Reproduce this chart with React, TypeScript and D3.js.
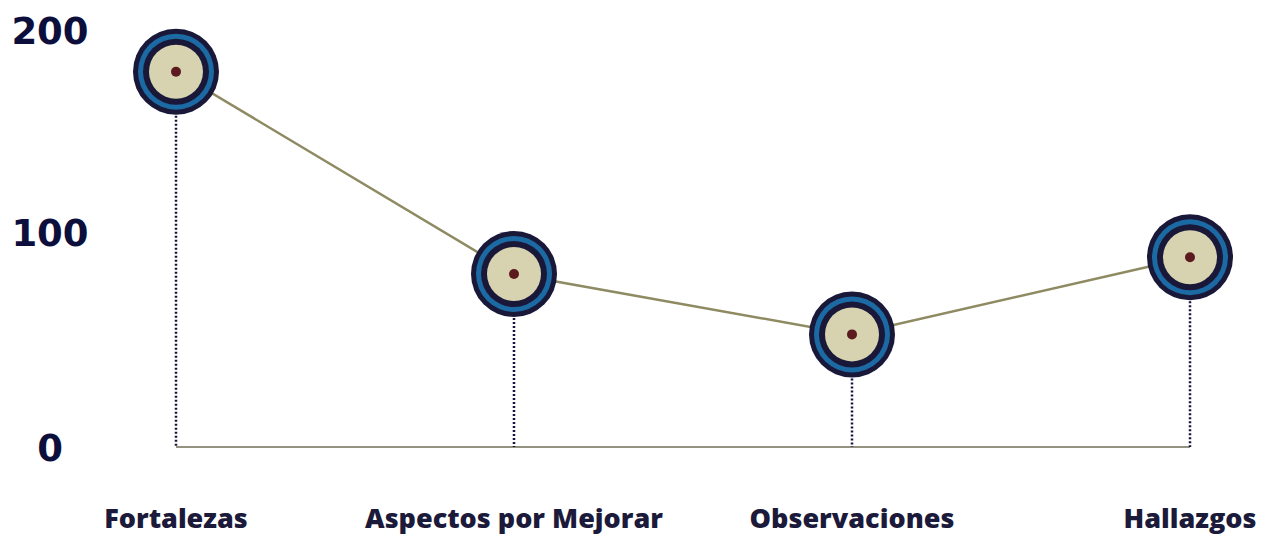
import * as d3 from "d3";
import { useEffect, useRef } from "react";

const categories = ["Fortalezas", "Aspectos por Mejorar", "Observaciones", "Hallazgos"];
const values = [180, 83, 54, 91];
const yTicks = [0, 100, 200];

export default function App() {
  const svgRef = useRef<SVGSVGElement | null>(null);

  useEffect(() => {
    const svg = d3.select(svgRef.current);
    const width = 1271;
    const height = 536;

    svg.selectAll("*").remove();
    svg.attr("width", width).attr("height", height);

    const x = d3
      .scalePoint<string>()
      .domain(categories)
      .range([176, 1190]);

    const y = d3.scaleLinear().domain([0, 200]).range([447, 30]);

    // baseline
    svg
      .append("line")
      .attr("x1", x(categories[0])!)
      .attr("x2", x(categories[categories.length - 1])!)
      .attr("y1", y(0))
      .attr("y2", y(0))
      .attr("stroke", "#6f6c55")
      .attr("stroke-width", 1.5);

    const pts = categories.map((c, i) => ({ c, v: values[i] }));

    // dotted drop lines
    svg
      .selectAll(".drop")
      .data(pts)
      .enter()
      .append("line")
      .attr("x1", (d) => x(d.c)!)
      .attr("x2", (d) => x(d.c)!)
      .attr("y1", (d) => y(d.v))
      .attr("y2", y(0))
      .attr("stroke", "#14133f")
      .attr("stroke-width", 2.5)
      .attr("stroke-dasharray", "2,2");

    const line = d3
      .line<{ c: string; v: number }>()
      .x((d) => x(d.c)!)
      .y((d) => y(d.v));

    svg
      .append("path")
      .datum(pts)
      .attr("fill", "none")
      .attr("stroke", "#8e8a62")
      .attr("stroke-width", 2.5)
      .attr("d", line);

    const rings = [
      { r: 43, fill: "#191839" },
      { r: 38, fill: "#1c6aa3" },
      { r: 33, fill: "#191839" },
      { r: 27, fill: "#d7d2b0" },
      { r: 5, fill: "#5b1a1e" },
    ];

    const g = svg
      .selectAll(".marker")
      .data(pts)
      .enter()
      .append("g")
      .attr("transform", (d) => `translate(${x(d.c)},${y(d.v)})`);

    rings.forEach((r) => {
      g.append("circle").attr("r", r.r).attr("fill", r.fill);
    });

    svg
      .selectAll(".ytick")
      .data(yTicks)
      .enter()
      .append("text")
      .attr("x", 50)
      .attr("y", (d) => y(d) + (d === 100 ? -6 : 1))
      .attr("dy", "0.36em")
      .attr("text-anchor", "middle")
      .attr("font-family", "DejaVu Sans")
      .attr("font-weight", 700)
      .attr("font-size", "37px")
      .attr("fill", "#0c0e3c")
      .text((d) => d);

    svg
      .selectAll(".xlabel")
      .data(categories)
      .enter()
      .append("text")
      .attr("x", (d) => x(d)!)
      .attr("y", 528)
      .attr("text-anchor", "middle")
      .attr("font-family", "Open Sans")
      .attr("font-weight", 800)
      .attr("font-size", "27px")
      .attr("fill", "#1b1a3a")
      .text((d) => d);
  }, []);

  return (
    <svg
      ref={svgRef}
      style={{ position: "absolute", left: 0, top: 0 }}
    ></svg>
  );
}
